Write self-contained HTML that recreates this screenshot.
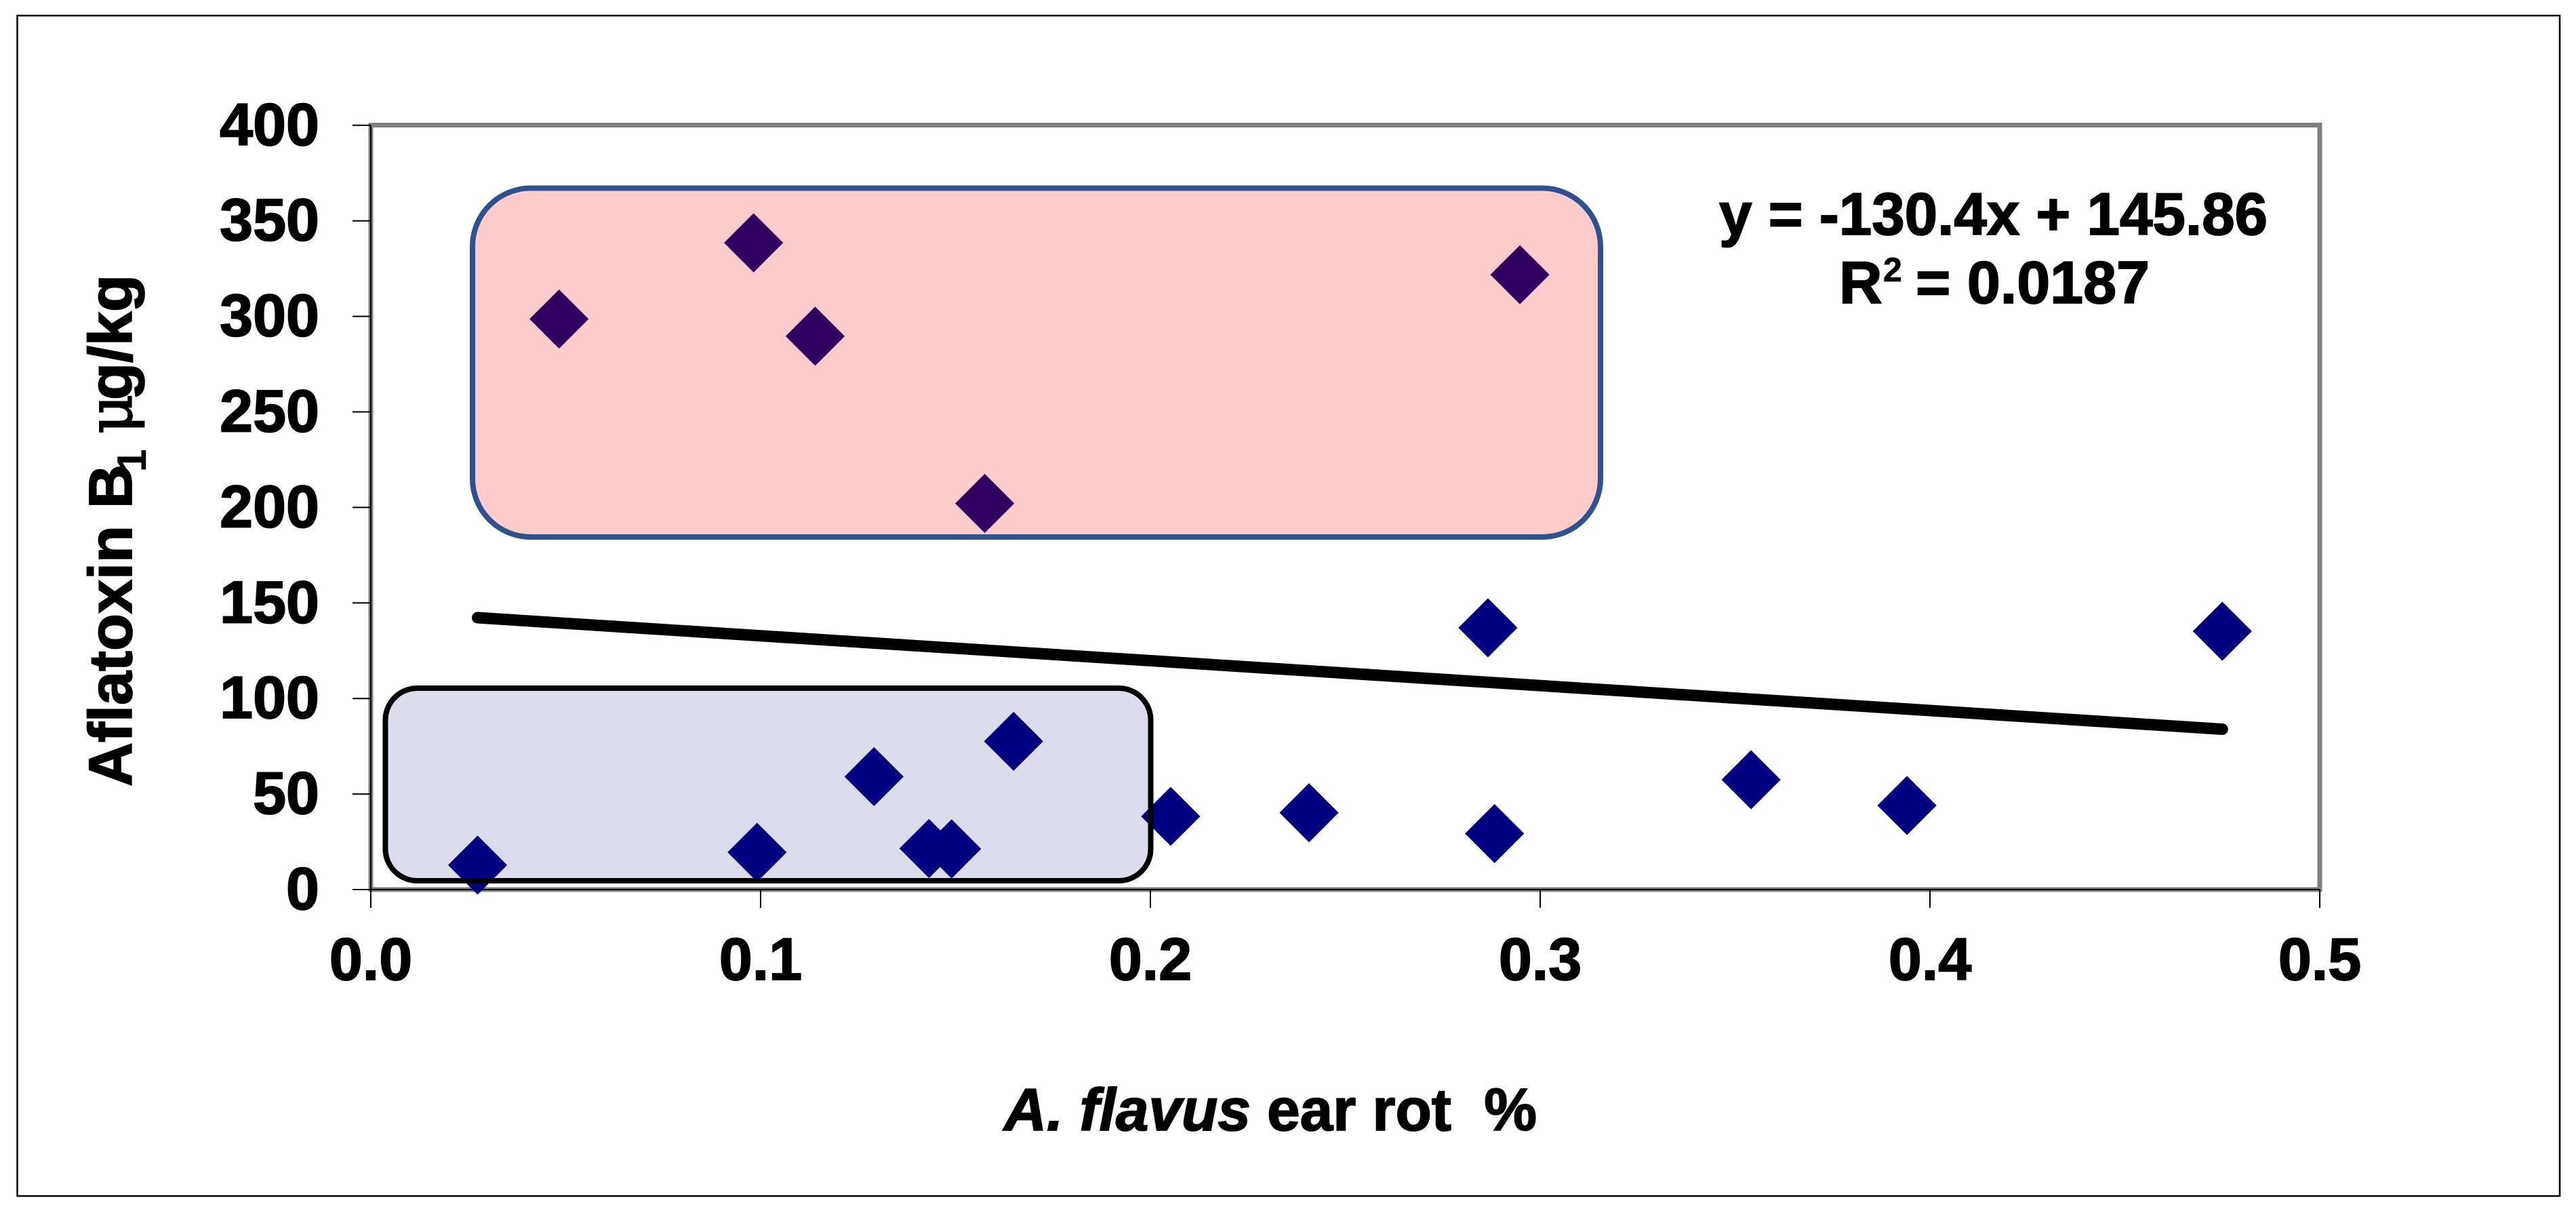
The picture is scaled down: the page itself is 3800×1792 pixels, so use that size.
<!DOCTYPE html>
<html lang="en">
<head>
<meta charset="utf-8">
<title>Aflatoxin B1 vs A. flavus ear rot</title>
<style>
html,body{margin:0;padding:0;background:#fff;}
svg{display:block;}
text{font-family:"Liberation Sans",sans-serif;font-weight:bold;fill:#000;stroke:#000;stroke-width:1.8px;}
</style>
</head>
<body>
<svg id="chart" xmlns="http://www.w3.org/2000/svg" width="3800" height="1792" viewBox="0 0 3800 1792">
  <rect x="0" y="0" width="3800" height="1792" fill="#fff"/>
  <rect x="25.5" y="23" width="3750.5" height="1741" fill="#fff" stroke="#000" stroke-width="2.5"/>
  <rect x="547" y="184.5" width="2875" height="1127.5" fill="#fff" stroke="#808080" stroke-width="7"/>
  <rect x="568.5" y="1015" width="1129" height="284" rx="47" ry="47" fill="#dcdcec"/>
  <rect x="697" y="277.5" width="1664" height="514.5" rx="86" ry="86" fill="#ffcccc"/>
  <g id="axes"></g>
  <g id="marks"></g>
  <rect x="568.5" y="1015" width="1129" height="284" rx="47" ry="47" fill="none" stroke="#000" stroke-width="8"/>
  <rect x="697" y="277.5" width="1664" height="514.5" rx="86" ry="86" fill="none" stroke="#2f528f" stroke-width="8"/>
  <g id="trend"></g>
  <g id="y-title">
    <text transform="translate(194 1160) rotate(-90)" font-size="90">Aflatoxin B</text>
    <text transform="translate(215 696) rotate(-90)" font-size="60" style="stroke-width:0.5px;">1</text>
    <text transform="translate(194 640) rotate(-90)" font-size="90" style="font-family:'DejaVu Serif','Liberation Serif',serif;font-weight:normal;">μ</text>
    <text transform="translate(194 590) rotate(-90)" font-size="90">g/kg</text>
  </g>
  <text x="1481" y="1667" font-size="88" textLength="786" lengthAdjust="spacingAndGlyphs" xml:space="preserve"><tspan font-style="italic">A. flavus</tspan> ear rot  %</text>
  <text x="2536" y="346" font-size="88" textLength="809" lengthAdjust="spacingAndGlyphs">y = -130.4x + 145.86</text>
  <text font-size="88"><tspan x="2713" y="447">R</tspan><tspan x="2778" y="415" font-size="50" style="stroke-width:0.8px;">2</tspan><tspan x="2826" y="447">= 0.0187</tspan></text>
</svg>
<script>
var xTickLabels = ["0.0", "0.1", "0.2", "0.3", "0.4", "0.5"];
var yTickLabels = ["0", "50", "100", "150", "200", "250", "300", "350", "400"];
var lowGroupX = [0.0274, 0.0991, 0.1291, 0.1649, 0.1432, 0.149, 0.2052, 0.2407, 0.2883, 0.2866, 0.3541, 0.3941, 0.475];
var lowGroupY = [12.8, 19.5, 59.1, 77.6, 21.5, 21.3, 38.3, 40.2, 29.3, 137, 57.5, 44, 135.2];
var highGroupX = [0.0483, 0.0982, 0.114, 0.1575, 0.2948];
var highGroupY = [298.6, 338.5, 289.6, 202.1, 321.8];
var trendSlope = -130.4;
var trendIntercept = 145.86;

var NS = "http://www.w3.org/2000/svg";
var XMIN = 0, XMAX = 0.5, YMIN = 0, YMAX = 400;
function xScale(v) { return 547 + (v - XMIN) / (XMAX - XMIN) * 2875; }
function yScale(v) { return 1312 - (v - YMIN) / (YMAX - YMIN) * 1127.2; }
function make(tag, attrs) {
  var el = document.createElementNS(NS, tag);
  for (var k in attrs) el.setAttribute(k, attrs[k]);
  return el;
}
var axes = document.getElementById("axes");
var marks = document.getElementById("marks");
var trend = document.getElementById("trend");

var yAxisLine = make("line", {x1: xScale(XMIN), y1: yScale(YMAX), x2: xScale(XMIN), y2: yScale(YMIN), stroke: "#000", "stroke-width": 2});


axes.appendChild(yAxisLine);
var xAxisLine = make("line", {x1: xScale(XMIN), y1: yScale(YMIN), x2: xScale(XMAX), y2: yScale(YMIN), stroke: "#000", "stroke-width": 2});


axes.appendChild(xAxisLine);

yTickLabels.forEach(function (label) {
  var py = yScale(parseFloat(label));
  var tick = make("line", {x1: 520, y1: py, x2: 547, y2: py, stroke: "#000", "stroke-width": 2});
  
  
  axes.appendChild(tick);
  var t = make("text", {x: 471, y: py + 29, "text-anchor": "end", "font-size": 88});
  
  
  t.textContent = label;
  axes.appendChild(t);
});
xTickLabels.forEach(function (label) {
  var px = xScale(parseFloat(label));
  var tick = make("line", {x1: px, y1: 1312, x2: px, y2: 1339, stroke: "#000", "stroke-width": 2});
  
  
  axes.appendChild(tick);
  var t = make("text", {x: px, y: 1445, "text-anchor": "middle", "font-size": 88});
  
  
  t.textContent = label;
  axes.appendChild(t);
});

function diamond(vx, vy, color) {
  var px = xScale(vx), py = yScale(vy), r = 43.6;
  return make("polygon", {
    points: px + "," + (py - r) + " " + (px + r) + "," + py + " " + px + "," + (py + r) + " " + (px - r) + "," + py,
    fill: color
  });
}
lowGroupX.forEach(function (vx, i) {
  var d = diamond(vx, lowGroupY[i], "#000080");
  
  
  marks.appendChild(d);
});
highGroupX.forEach(function (vx, i) {
  var d = diamond(vx, highGroupY[i], "#2f0060");
  
  
  marks.appendChild(d);
});

var allX = lowGroupX.concat(highGroupX);
var tx0 = Math.min.apply(null, allX), tx1 = Math.max.apply(null, allX);
var trendLine = make("line", {
  x1: xScale(tx0), y1: yScale(trendSlope * tx0 + trendIntercept),
  x2: xScale(tx1), y2: yScale(trendSlope * tx1 + trendIntercept),
  stroke: "#000", "stroke-width": 17, "stroke-linecap": "round"
});


trend.appendChild(trendLine);
</script>
</body>
</html>
